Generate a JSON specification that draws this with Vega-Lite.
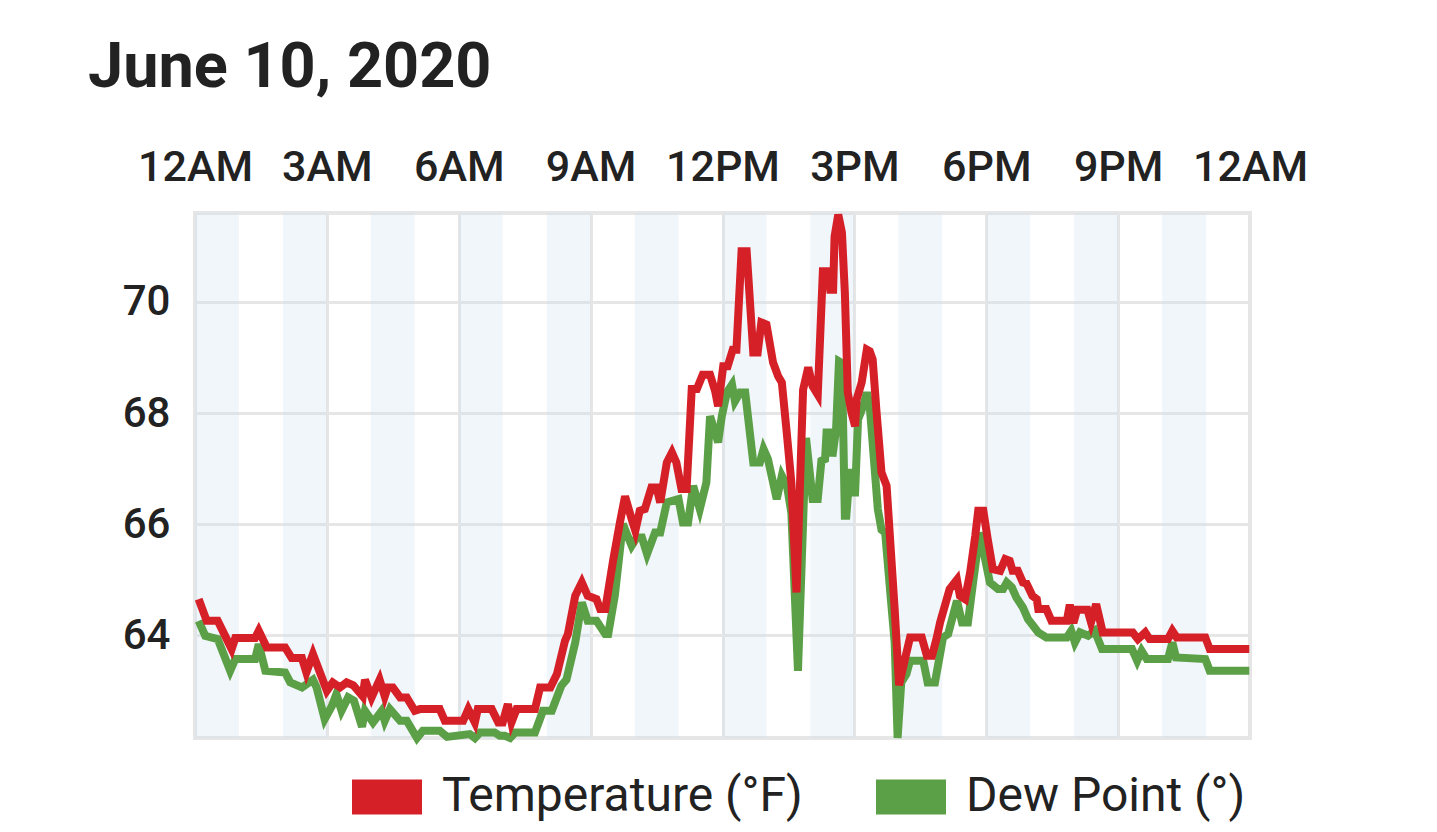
{
  "$schema": "https://vega.github.io/schema/vega-lite/v6.json",
  "width": 1055,
  "height": 525,
  "autosize": {"type": "none"},
  "padding": {"left": 195, "top": 213, "right": 187, "bottom": 94},
  "background": "white",
  "title": {"text": "June 10, 2020", "anchor": "start", "frame": "group", "dx": -107, "dy": 60, "font": "Roboto", "fontSize": 63, "fontWeight": "bold", "color": "#222222", "baseline": "alphabetic", "offset": 56},
  "config": {"view": {"stroke": "#e6e6e6", "strokeWidth": 4}, "font": "Roboto"},
  "layer": [
    {
      "data": {
        "values": [
          {"s": "00:00", "e": "01:00"}, {"s": "02:00", "e": "03:00"}, {"s": "04:00", "e": "05:00"},
          {"s": "06:00", "e": "07:00"}, {"s": "08:00", "e": "09:00"}, {"s": "10:00", "e": "11:00"},
          {"s": "12:00", "e": "13:00"}, {"s": "14:00", "e": "15:00"}, {"s": "16:00", "e": "17:00"},
          {"s": "18:00", "e": "19:00"}, {"s": "20:00", "e": "21:00"}, {"s": "22:00", "e": "23:00"}
        ],
        "format": {"parse": {"s": "date:'%H:%M'", "e": "date:'%H:%M'"}}
      },
      "mark": {"type": "rect", "color": "#cfe2f3", "opacity": 0.3},
      "encoding": {
        "x": {
          "field": "s", "type": "temporal", "title": null,
          "scale": {"domain": [{"year": 1900, "month": 1, "date": 1, "hours": 0}, {"year": 1900, "month": 1, "date": 2, "hours": 0}]},
          "axis": {
            "orient": "top",
            "values": [
              {"year": 1900, "month": 1, "date": 1, "hours": 0}, {"year": 1900, "month": 1, "date": 1, "hours": 3},
              {"year": 1900, "month": 1, "date": 1, "hours": 6}, {"year": 1900, "month": 1, "date": 1, "hours": 9},
              {"year": 1900, "month": 1, "date": 1, "hours": 12}, {"year": 1900, "month": 1, "date": 1, "hours": 15},
              {"year": 1900, "month": 1, "date": 1, "hours": 18}, {"year": 1900, "month": 1, "date": 1, "hours": 21},
              {"year": 1900, "month": 1, "date": 2, "hours": 0}
            ],
            "format": "%-I%p",
            "labelFont": "Roboto", "labelFontSize": 43, "labelFontWeight": 500, "labelColor": "#222222",
            "labelPadding": 33, "labelBaseline": "alphabetic", "labelFlush": false, "labelOverlap": false,
            "ticks": false, "domain": false, "grid": true, "gridColor": "#e6e6e6", "gridWidth": 3, "title": null
          }
        },
        "x2": {"field": "e"}
      }
    },
    {
      "data": {
        "values": [
          {"t": "00:05", "v": 64.26}, {"t": "00:14", "v": 63.99}, {"t": "00:31", "v": 63.93}, {"t": "00:48", "v": 63.36},
          {"t": "00:55", "v": 63.57}, {"t": "01:22", "v": 63.57}, {"t": "01:27", "v": 63.84}, {"t": "01:36", "v": 63.36},
          {"t": "02:03", "v": 63.33}, {"t": "02:10", "v": 63.15}, {"t": "02:26", "v": 63.06}, {"t": "02:41", "v": 63.2},
          {"t": "02:46", "v": 63.06}, {"t": "02:57", "v": 62.49}, {"t": "03:07", "v": 62.73}, {"t": "03:13", "v": 62.94},
          {"t": "03:20", "v": 62.64}, {"t": "03:29", "v": 62.88}, {"t": "03:37", "v": 62.82}, {"t": "03:48", "v": 62.35},
          {"t": "03:52", "v": 62.64}, {"t": "04:03", "v": 62.43}, {"t": "04:15", "v": 62.64}, {"t": "04:19", "v": 62.46},
          {"t": "04:26", "v": 62.67}, {"t": "04:40", "v": 62.46}, {"t": "04:49", "v": 62.46}, {"t": "05:03", "v": 62.15},
          {"t": "05:11", "v": 62.28}, {"t": "05:34", "v": 62.28}, {"t": "05:44", "v": 62.17}, {"t": "06:15", "v": 62.22},
          {"t": "06:22", "v": 62.15}, {"t": "06:29", "v": 62.25}, {"t": "06:49", "v": 62.25}, {"t": "06:56", "v": 62.19},
          {"t": "07:03", "v": 62.19}, {"t": "07:10", "v": 62.15}, {"t": "07:17", "v": 62.25}, {"t": "07:44", "v": 62.25},
          {"t": "07:55", "v": 62.64}, {"t": "08:07", "v": 62.64}, {"t": "08:20", "v": 63.09}, {"t": "08:27", "v": 63.2},
          {"t": "08:39", "v": 63.87}, {"t": "08:48", "v": 64.59}, {"t": "08:56", "v": 64.26}, {"t": "09:08", "v": 64.26},
          {"t": "09:20", "v": 64.02}, {"t": "09:24", "v": 64.02}, {"t": "09:33", "v": 64.71}, {"t": "09:44", "v": 66.0},
          {"t": "09:56", "v": 65.61}, {"t": "10:03", "v": 65.76}, {"t": "10:10", "v": 65.76}, {"t": "10:17", "v": 65.46},
          {"t": "10:28", "v": 65.85}, {"t": "10:35", "v": 65.85}, {"t": "10:44", "v": 66.39}, {"t": "11:00", "v": 66.45},
          {"t": "11:06", "v": 66.03}, {"t": "11:13", "v": 66.03}, {"t": "11:20", "v": 66.69}, {"t": "11:29", "v": 66.27},
          {"t": "11:38", "v": 66.75}, {"t": "11:43", "v": 67.94}, {"t": "11:50", "v": 67.65}, {"t": "11:54", "v": 67.47},
          {"t": "11:59", "v": 67.94}, {"t": "12:06", "v": 68.37}, {"t": "12:13", "v": 68.51}, {"t": "12:17", "v": 68.21},
          {"t": "12:24", "v": 68.37}, {"t": "12:31", "v": 68.37}, {"t": "12:42", "v": 67.11}, {"t": "12:51", "v": 67.11},
          {"t": "12:56", "v": 67.35}, {"t": "13:02", "v": 67.17}, {"t": "13:09", "v": 66.75}, {"t": "13:14", "v": 66.45},
          {"t": "13:21", "v": 66.87}, {"t": "13:28", "v": 66.69}, {"t": "13:34", "v": 66.2}, {"t": "13:43", "v": 63.36},
          {"t": "13:54", "v": 67.55}, {"t": "14:03", "v": 66.45}, {"t": "14:10", "v": 66.45}, {"t": "14:15", "v": 67.14},
          {"t": "14:20", "v": 67.17}, {"t": "14:22", "v": 67.65}, {"t": "14:28", "v": 67.65}, {"t": "14:30", "v": 67.22},
          {"t": "14:35", "v": 67.7}, {"t": "14:39", "v": 68.93}, {"t": "14:43", "v": 68.9}, {"t": "14:47", "v": 66.15},
          {"t": "14:49", "v": 66.15}, {"t": "14:54", "v": 66.99}, {"t": "14:58", "v": 66.57}, {"t": "15:01", "v": 66.57},
          {"t": "15:05", "v": 67.88}, {"t": "15:12", "v": 68.12}, {"t": "15:17", "v": 68.37}, {"t": "15:21", "v": 68.12},
          {"t": "15:32", "v": 66.27}, {"t": "15:37", "v": 65.9}, {"t": "15:42", "v": 65.85}, {"t": "15:49", "v": 64.77},
          {"t": "15:55", "v": 63.87}, {"t": "15:59", "v": 62.15}, {"t": "16:04", "v": 63.15}, {"t": "16:11", "v": 63.3},
          {"t": "16:16", "v": 63.54}, {"t": "16:34", "v": 63.54}, {"t": "16:40", "v": 63.15}, {"t": "16:50", "v": 63.15},
          {"t": "17:01", "v": 63.96}, {"t": "17:08", "v": 64.02}, {"t": "17:20", "v": 64.62}, {"t": "17:27", "v": 64.23},
          {"t": "17:35", "v": 64.23}, {"t": "17:42", "v": 64.95}, {"t": "17:51", "v": 65.85}, {"t": "18:05", "v": 64.95},
          {"t": "18:16", "v": 64.83}, {"t": "18:23", "v": 64.83}, {"t": "18:28", "v": 64.95}, {"t": "18:35", "v": 64.86},
          {"t": "18:41", "v": 64.68}, {"t": "18:50", "v": 64.5}, {"t": "18:57", "v": 64.29}, {"t": "19:04", "v": 64.17},
          {"t": "19:11", "v": 64.05}, {"t": "19:22", "v": 63.96}, {"t": "19:50", "v": 63.96}, {"t": "19:56", "v": 64.08},
          {"t": "20:01", "v": 63.87}, {"t": "20:08", "v": 64.05}, {"t": "20:19", "v": 63.99}, {"t": "20:28", "v": 64.08},
          {"t": "20:38", "v": 63.75}, {"t": "21:19", "v": 63.75}, {"t": "21:26", "v": 63.54}, {"t": "21:32", "v": 63.72},
          {"t": "21:39", "v": 63.57}, {"t": "22:08", "v": 63.57}, {"t": "22:14", "v": 63.87}, {"t": "22:19", "v": 63.6},
          {"t": "22:59", "v": 63.57}, {"t": "23:05", "v": 63.36}, {"t": "23:59", "v": 63.36}
        ],
        "format": {"parse": {"t": "date:'%H:%M'"}}
      },
      "mark": {"type": "line", "strokeWidth": 8},
      "encoding": {
        "x": {"field": "t", "type": "temporal", "title": null},
        "y": {
          "field": "v", "type": "quantitative", "title": null,
          "scale": {"domain": [62.15, 71.6], "nice": false, "zero": false},
          "axis": {
            "values": [64, 66, 68, 70], "format": "d",
            "labelFont": "Roboto", "labelFontSize": 42, "labelFontWeight": 500, "labelColor": "#222222", "labelPadding": 25,
            "ticks": false, "domain": false, "grid": true, "gridColor": "#e6e6e6", "gridWidth": 3, "title": null
          }
        },
        "color": {
          "datum": "Dew Point (°)", "type": "nominal",
          "scale": {"domain": ["Temperature (°F)", "Dew Point (°)"], "range": ["#d62028", "#5ba047"]},
          "legend": {
            "orient": "none", "legendX": 157, "legendY": 549, "direction": "horizontal", "title": null,
            "padding": 0,
            "symbolType": "M-1,-0.5H1V0.5H-1Z", "symbolSize": 4900, "symbolStrokeWidth": 0,
            "labelFont": "Roboto", "labelFontSize": 48, "labelColor": "#222222", "labelOffset": 20,
            "columnPadding": 73, "labelLimit": 1000,
            "encode": {"symbols": {"update": {"fill": {"scale": "color", "field": "value"}, "fillOpacity": {"value": 1}, "opacity": {"value": 1}}}}
          }
        }
      }
    },
    {
      "data": {
        "values": [
          {"t": "00:05", "v": 64.65}, {"t": "00:16", "v": 64.26}, {"t": "00:31", "v": 64.26}, {"t": "00:50", "v": 63.75},
          {"t": "00:55", "v": 63.95}, {"t": "01:22", "v": 63.95}, {"t": "01:27", "v": 64.08}, {"t": "01:38", "v": 63.78},
          {"t": "02:03", "v": 63.78}, {"t": "02:12", "v": 63.59}, {"t": "02:26", "v": 63.59}, {"t": "02:32", "v": 63.33},
          {"t": "02:41", "v": 63.66}, {"t": "03:00", "v": 63.0}, {"t": "03:08", "v": 63.15}, {"t": "03:18", "v": 63.06},
          {"t": "03:27", "v": 63.15}, {"t": "03:36", "v": 63.1}, {"t": "03:49", "v": 62.9}, {"t": "03:52", "v": 63.2},
          {"t": "04:01", "v": 62.88}, {"t": "04:12", "v": 63.2}, {"t": "04:19", "v": 62.9}, {"t": "04:23", "v": 63.06},
          {"t": "04:30", "v": 63.06}, {"t": "04:40", "v": 62.88}, {"t": "04:49", "v": 62.88}, {"t": "05:00", "v": 62.64},
          {"t": "05:07", "v": 62.67}, {"t": "05:34", "v": 62.67}, {"t": "05:41", "v": 62.46}, {"t": "06:06", "v": 62.46},
          {"t": "06:13", "v": 62.67}, {"t": "06:22", "v": 62.43}, {"t": "06:26", "v": 62.67}, {"t": "06:45", "v": 62.67},
          {"t": "06:54", "v": 62.43}, {"t": "07:00", "v": 62.43}, {"t": "07:07", "v": 62.76}, {"t": "07:12", "v": 62.43},
          {"t": "07:19", "v": 62.67}, {"t": "07:44", "v": 62.67}, {"t": "07:51", "v": 63.06}, {"t": "08:05", "v": 63.06},
          {"t": "08:14", "v": 63.3}, {"t": "08:25", "v": 63.9}, {"t": "08:29", "v": 64.02}, {"t": "08:39", "v": 64.71},
          {"t": "08:48", "v": 64.95}, {"t": "08:56", "v": 64.71}, {"t": "09:08", "v": 64.65}, {"t": "09:13", "v": 64.47},
          {"t": "09:20", "v": 64.47}, {"t": "09:31", "v": 65.37}, {"t": "09:40", "v": 66.03}, {"t": "09:47", "v": 66.5},
          {"t": "09:56", "v": 66.09}, {"t": "10:01", "v": 65.88}, {"t": "10:07", "v": 66.24}, {"t": "10:14", "v": 66.27},
          {"t": "10:23", "v": 66.66}, {"t": "10:30", "v": 66.66}, {"t": "10:35", "v": 66.39}, {"t": "10:44", "v": 67.11},
          {"t": "10:51", "v": 67.29}, {"t": "10:57", "v": 67.11}, {"t": "11:04", "v": 66.63}, {"t": "11:11", "v": 66.63},
          {"t": "11:18", "v": 68.43}, {"t": "11:25", "v": 68.43}, {"t": "11:33", "v": 68.69}, {"t": "11:43", "v": 68.69},
          {"t": "11:50", "v": 68.39}, {"t": "11:54", "v": 68.12}, {"t": "12:01", "v": 68.84}, {"t": "12:07", "v": 68.84},
          {"t": "12:14", "v": 69.14}, {"t": "12:19", "v": 69.14}, {"t": "12:26", "v": 70.91}, {"t": "12:33", "v": 70.91},
          {"t": "12:42", "v": 69.09}, {"t": "12:48", "v": 69.09}, {"t": "12:53", "v": 69.63}, {"t": "13:00", "v": 69.59},
          {"t": "13:09", "v": 68.91}, {"t": "13:16", "v": 68.66}, {"t": "13:21", "v": 68.55}, {"t": "13:28", "v": 67.6},
          {"t": "13:34", "v": 66.75}, {"t": "13:41", "v": 64.77}, {"t": "13:50", "v": 68.42}, {"t": "13:57", "v": 68.82},
          {"t": "14:03", "v": 68.48}, {"t": "14:10", "v": 68.33}, {"t": "14:17", "v": 70.55}, {"t": "14:24", "v": 70.55},
          {"t": "14:27", "v": 70.22}, {"t": "14:31", "v": 70.22}, {"t": "14:33", "v": 71.18}, {"t": "14:38", "v": 71.57},
          {"t": "14:43", "v": 71.25}, {"t": "14:47", "v": 70.17}, {"t": "14:51", "v": 68.37}, {"t": "14:56", "v": 68.01},
          {"t": "15:01", "v": 67.76}, {"t": "15:03", "v": 68.24}, {"t": "15:10", "v": 68.55}, {"t": "15:17", "v": 69.14},
          {"t": "15:21", "v": 69.11}, {"t": "15:25", "v": 68.96}, {"t": "15:30", "v": 68.06}, {"t": "15:37", "v": 66.93},
          {"t": "15:44", "v": 66.69}, {"t": "15:55", "v": 64.47}, {"t": "16:01", "v": 63.1}, {"t": "16:09", "v": 63.57},
          {"t": "16:16", "v": 63.96}, {"t": "16:32", "v": 63.96}, {"t": "16:39", "v": 63.63}, {"t": "16:46", "v": 63.63},
          {"t": "16:52", "v": 63.93}, {"t": "16:57", "v": 64.23}, {"t": "17:10", "v": 64.83}, {"t": "17:20", "v": 65.0},
          {"t": "17:24", "v": 64.71}, {"t": "17:31", "v": 64.65}, {"t": "17:38", "v": 65.13}, {"t": "17:45", "v": 65.79},
          {"t": "17:49", "v": 66.24}, {"t": "17:56", "v": 66.24}, {"t": "18:02", "v": 65.73}, {"t": "18:09", "v": 65.19},
          {"t": "18:19", "v": 65.16}, {"t": "18:26", "v": 65.37}, {"t": "18:32", "v": 65.34}, {"t": "18:36", "v": 65.16},
          {"t": "18:43", "v": 65.16}, {"t": "18:50", "v": 64.95}, {"t": "18:55", "v": 64.93}, {"t": "19:03", "v": 64.71},
          {"t": "19:09", "v": 64.65}, {"t": "19:11", "v": 64.47}, {"t": "19:22", "v": 64.47}, {"t": "19:29", "v": 64.26},
          {"t": "19:50", "v": 64.26}, {"t": "19:54", "v": 64.55}, {"t": "19:59", "v": 64.22}, {"t": "20:04", "v": 64.46},
          {"t": "20:18", "v": 64.46}, {"t": "20:23", "v": 64.23}, {"t": "20:30", "v": 64.56}, {"t": "20:39", "v": 64.05},
          {"t": "21:20", "v": 64.05}, {"t": "21:27", "v": 63.93}, {"t": "21:37", "v": 64.05}, {"t": "21:43", "v": 63.93},
          {"t": "22:08", "v": 63.93}, {"t": "22:14", "v": 64.08}, {"t": "22:20", "v": 63.96}, {"t": "22:59", "v": 63.96},
          {"t": "23:05", "v": 63.75}, {"t": "23:59", "v": 63.75}
        ],
        "format": {"parse": {"t": "date:'%H:%M'"}}
      },
      "mark": {"type": "line", "strokeWidth": 8},
      "encoding": {
        "x": {"field": "t", "type": "temporal", "title": null},
        "y": {"field": "v", "type": "quantitative", "title": null},
        "color": {"datum": "Temperature (°F)", "type": "nominal"}
      }
    }
  ]
}
